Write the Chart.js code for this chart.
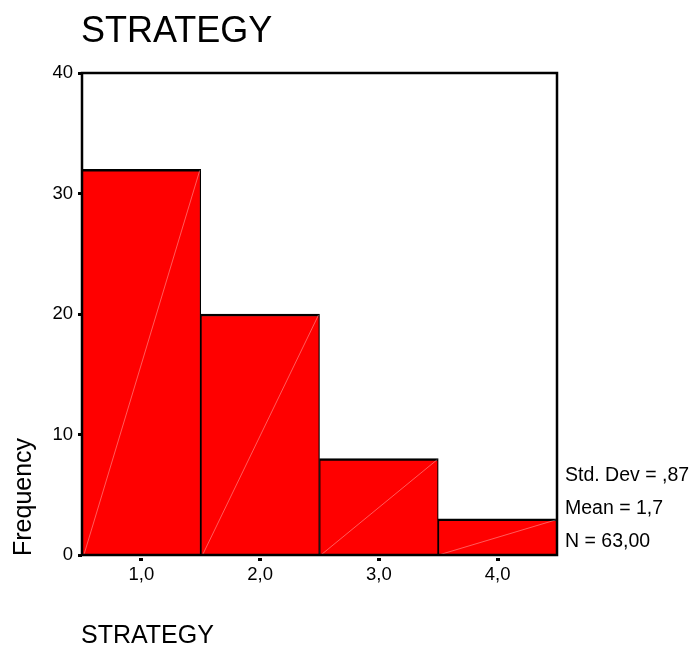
<!DOCTYPE html>
<html>
<head>
<meta charset="utf-8">
<script src="https://cdn.jsdelivr.net/npm/chart.js@4/dist/chart.umd.min.js"></script>
<style>
  html, body { margin: 0; padding: 0; background: #fff; }
  #wrap { width: 691px; height: 647px; position: relative; }
</style>
</head>
<body>
<div id="wrap"><canvas id="c"></canvas></div>
<script>
// Histogram of STRATEGY: class midpoints and counts
const categories = ['1,0', '2,0', '3,0', '4,0'];
const frequency = [32, 20, 8, 3];
const yMin = 0, yMax = 40, yStep = 10;
const chartTitle = 'STRATEGY';
const xTitle = 'STRATEGY';
const yTitle = 'Frequency';
const statsLines = ['Std. Dev = ,87', 'Mean = 1,7', 'N = 63,00'];

const FONT = '"Liberation Sans", Arial, Helvetica, sans-serif';

const decorations = {
  id: 'decorations',
  beforeDraw(chart) {
    const ctx = chart.ctx;
    ctx.save();
    ctx.fillStyle = '#fff';
    ctx.fillRect(0, 0, chart.width, chart.height);
    ctx.restore();
  },
  afterDatasetsDraw(chart) {
    const ctx = chart.ctx;
    const area = chart.chartArea;
    const meta = chart.getDatasetMeta(0);

    // faint diagonal seams across each bar
    ctx.save();
    ctx.strokeStyle = 'rgba(255,255,255,0.45)';
    ctx.lineWidth = 0.8;
    meta.data.forEach(bar => {
      const p = bar.getProps(['x', 'y', 'base', 'width'], true);
      const l = p.x - p.width / 2 + 2, r = p.x + p.width / 2 - 1;
      ctx.beginPath();
      ctx.moveTo(l, p.base);
      ctx.lineTo(r, p.y + 1);
      ctx.stroke();
    });
    ctx.restore();

    // plot frame
    ctx.save();
    ctx.strokeStyle = '#000';
    ctx.lineWidth = 2.5;
    ctx.strokeRect(area.left, area.top, area.right - area.left, area.bottom - area.top);
    ctx.restore();

    // x tick marks, set slightly below the axis
    const xs = chart.scales.x;
    ctx.save();
    ctx.fillStyle = '#000';
    categories.forEach((c, i) => {
      const px = xs.getPixelForTick(i);
      ctx.fillRect(Math.round(px) - 2, area.bottom + 3, 4, 3);
    });
    ctx.restore();

    // titles and summary statistics
    ctx.save();
    ctx.fillStyle = '#000';
    ctx.textBaseline = 'alphabetic';
    ctx.textAlign = 'left';
    ctx.font = '36px ' + FONT;
    ctx.fillText(chartTitle, area.left - 1, 42);

    ctx.font = '25px ' + FONT;
    ctx.fillText(xTitle, area.left - 1, 643);

    ctx.save();
    ctx.translate(31, area.bottom + 1);
    ctx.rotate(-Math.PI / 2);
    ctx.font = '25px ' + FONT;
    ctx.fillText(yTitle, 0, 0);
    ctx.restore();

    ctx.font = '19.5px ' + FONT;
    const n = statsLines.length;
    statsLines.forEach((t, i) => {
      ctx.fillText(t, area.right + 8, area.bottom - 8 - (n - 1 - i) * 33);
    });
    ctx.restore();
  }
};

new Chart(document.getElementById('c'), {
  type: 'bar',
  data: {
    labels: categories,
    datasets: [{
      data: frequency,
      backgroundColor: '#ff0000',
      borderColor: '#000',
      borderWidth: { top: 2.5, left: 1.25, right: 1.25, bottom: 0 },
      borderSkipped: false,
      barPercentage: 1.0,
      categoryPercentage: 1.0
    }]
  },
  options: {
    responsive: true,
    maintainAspectRatio: false,
    animation: false,
    devicePixelRatio: 1,
    layout: { padding: { left: 0, right: 134, top: 73, bottom: 0 } },
    plugins: {
      legend: { display: false },
      title: { display: false },
      tooltip: { enabled: false }
    },
    scales: {
      x: {
        grid: { display: false, drawTicks: false },
        border: { display: false },
        ticks: { color: '#000', padding: 9, font: { family: FONT, size: 18.5 } },
        afterFit(scale) { scale.height = 92; }
      },
      y: {
        min: yMin,
        max: yMax,
        grid: { drawOnChartArea: false, drawTicks: true, tickLength: 4, tickWidth: 3, tickColor: '#000' },
        border: { display: false },
        ticks: { stepSize: yStep, color: '#000', padding: 5, font: { family: FONT, size: 18.5 } },
        afterFit(scale) { scale.width = 82; }
      }
    }
  },
  plugins: [decorations]
});
</script>
</body>
</html>
